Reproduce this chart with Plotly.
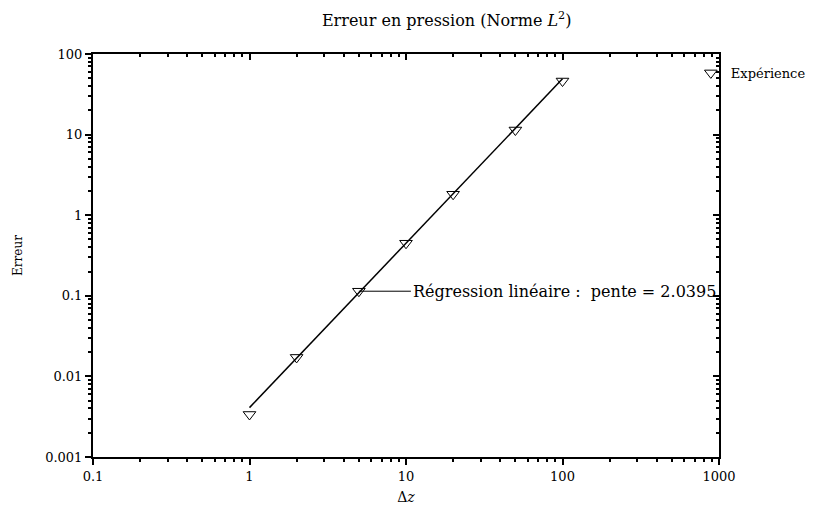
import math
import plotly.graph_objects as go

# pas d'espace (Delta z) et erreur mesurée
dz = [1, 2, 5, 10, 20, 50, 100]
erreur = [0.00337, 0.0172, 0.114, 0.449, 1.82, 11.4, 46.2]

# droite de régression (extrémités)
reg_x = [1, 100]
reg_y = [0.0041, 49.2]
pente = 2.0395

x_ticks = [0.1, 1, 10, 100, 1000]
x_ticktext = ["0.1", "1", "10", "100", "1000"]
y_ticks = [0.001, 0.01, 0.1, 1, 10, 100]
y_ticktext = ["0.001", "0.01", "0.1", "1", "10", "100"]

FONT = "DejaVu Serif"

# graduations secondaires 2..9 de chaque décade
x_minor = [m * 10 ** e for e in range(-1, 3) for m in range(2, 10)]
y_minor = [m * 10 ** e for e in range(-3, 2) for m in range(2, 10)]

fig = go.Figure()
# droite tracée sur les axes haut/droite (mêmes échelles) pour qu'ils soient dessinés
fig.add_trace(go.Scatter(
    x=reg_x, y=reg_y, mode="lines", xaxis="x2", yaxis="y2",
    line=dict(color="black", width=1.5),
    showlegend=False, hoverinfo="skip"
))
fig.add_trace(go.Scatter(
    x=dz, y=erreur, mode="markers", name="Expérience",
    marker=dict(symbol="triangle-down-open", size=11, color="black",
                line=dict(color="black", width=1))
))

# annotation : sur axe log, x/y en log10
fig.add_annotation(
    x=math.log10(dz[2]), y=math.log10(erreur[2]), xref="x", yref="y",
    text=f"Régression linéaire :  pente = {pente}",
    showarrow=True, arrowhead=0, arrowwidth=1, arrowcolor="black",
    ax=52, ay=0, xanchor="left",
    font=dict(family=FONT, size=16, color="black")
)

common_x = dict(type="log", range=[-1, 3], showgrid=False, zeroline=False,
                showline=True, linecolor="black", linewidth=2, automargin=False,
                tickcolor="black", tickwidth=1.5, ticklen=6)
common_y = dict(type="log", range=[-3, 2], showgrid=False, zeroline=False,
                showline=True, linecolor="black", linewidth=2, automargin=False,
                tickcolor="black", tickwidth=1.5, ticklen=6)

fig.update_layout(
    width=828, height=512,
    paper_bgcolor="white", plot_bgcolor="white",
    margin=dict(l=93, r=109, t=54, b=55),
    font=dict(family=FONT, size=13, color="black"),
    title=dict(text="Erreur en pression (Norme <i>L</i><sup>2</sup>)",
               x=0.565, xref="paper", xanchor="center",
               y=1 - 20 / 512, yref="container", yanchor="middle",
               font=dict(family=FONT, size=16, color="black")),
    xaxis=dict(**common_x, ticks="outside", tickvals=x_ticks, ticktext=x_ticktext,
               minor=dict(ticks="outside", ticklen=3, tickcolor="black",
                          tickvals=x_minor, showgrid=False),
               title=dict(text="Δ<i>z</i>", standoff=10,
                          font=dict(family=FONT, size=14))),
    xaxis2=dict(**common_x, overlaying="x", side="top", anchor="y2",
                ticks="inside", tickvals=x_ticks, showticklabels=False,
                minor=dict(ticks="inside", ticklen=3, tickcolor="black",
                           tickvals=x_minor, showgrid=False)),
    yaxis=dict(**common_y, ticks="outside", tickvals=y_ticks, ticktext=y_ticktext,
               minor=dict(ticks="outside", ticklen=3, tickcolor="black",
                          tickvals=y_minor, showgrid=False),
               title=dict(text="Erreur", standoff=20,
                          font=dict(family=FONT, size=12))),
    yaxis2=dict(**common_y, overlaying="y", side="right", anchor="x2",
                ticks="inside", tickvals=y_ticks, showticklabels=False,
                minor=dict(ticks="inside", ticklen=3, tickcolor="black",
                           tickvals=y_minor, showgrid=False)),
    # la légende doit rester dans les 828 px, sinon la page est réduite
    legend=dict(x=0.955, y=0.953, xanchor="left", yanchor="middle",
                bgcolor="rgba(0,0,0,0)", font=dict(family=FONT, size=13)),
    showlegend=True,
)

page_fix = (
    "document.documentElement.style.overflow = 'hidden';"
    "document.body.style.margin = '0';"
    "document.body.style.overflow = 'hidden';"
)
fig.write_html("out.html", config={"displayModeBar": False}, post_script=page_fix)
